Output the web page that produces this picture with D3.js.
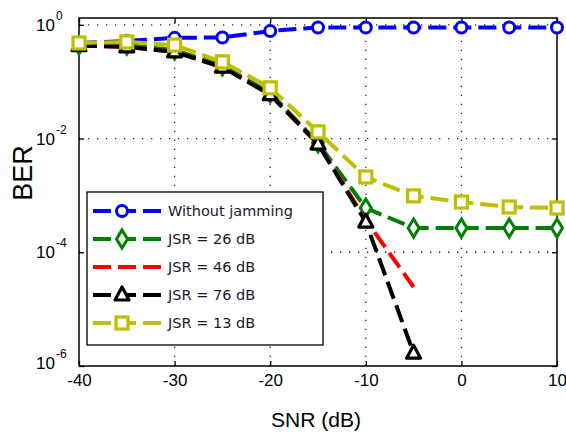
<!DOCTYPE html>
<html><head><meta charset="utf-8">
<script src="https://cdn.jsdelivr.net/npm/d3@7"></script>
<style>body{margin:0;background:#fff}svg{display:block}</style>
</head><body>
<svg id="c" width="566" height="432"></svg>
<script>
const snr = [-40,-35,-30,-25,-20,-15,-10,-5,0,5,10];
const noJam = [0.48,0.52,0.59,0.6,0.78,0.9,0.9,0.9,0.9,0.9,0.9];
const jsr26 = [0.445,0.44,0.36,0.19,0.0635,0.0084,6.0e-4,2.67e-4,2.67e-4,2.67e-4,2.67e-4];
const jsr46 = [0.43,0.41,0.335,0.18,0.059,0.0081,3.7e-4,2.45e-5];
const jsr76 = [0.43,0.41,0.335,0.18,0.059,0.0080,3.4e-4,1.68e-6];
const jsr13 = [0.48,0.50,0.44,0.223,0.078,0.0131,0.00211,9.8e-4,7.65e-4,6.25e-4,6.0e-4];
const seriesNames = ["Without jamming","JSR = 26 dB","JSR = 46 dB","JSR = 76 dB","JSR = 13 dB"];
const xTicks = [-40,-30,-20,-10,0,10];
const yTicks = [1,1e-2,1e-4,1e-6];
const yExp = ["0","-2","-4","-6"];

const series = [
  {name:seriesNames[0], v:noJam, color:"#0000ff", marker:"circle"},
  {name:seriesNames[1], v:jsr26, color:"#008000", marker:"diamond"},
  {name:seriesNames[2], v:jsr46, color:"#ff0000", marker:"none"},
  {name:seriesNames[3], v:jsr76, color:"#000000", marker:"triangle"},
  {name:seriesNames[4], v:jsr13, color:"#bfbf00", marker:"square"}
];

const L=79, R=557, T=18, B=366;
const svg = d3.select("#c");
const x = d3.scaleLinear().domain([-40,10]).range([L,R]);
const y = d3.scaleLog().domain([1e-6, Math.pow(10,0.12)]).range([B,T]);

// grid
const grid = svg.append("g").attr("stroke","#222").attr("stroke-width",1.3).attr("stroke-dasharray","1.3,7.7");
xTicks.slice(1,-1).forEach(t=>grid.append("line").attr("x1",x(t)).attr("x2",x(t)).attr("y1",B).attr("y2",T));
yTicks.slice(0,-1).forEach(t=>grid.append("line").attr("x1",L).attr("x2",R).attr("y1",y(t)).attr("y2",y(t)));

// axes
const xa = svg.append("g").attr("transform",`translate(0,${B})`)
  .call(d3.axisBottom(x).tickValues(xTicks).tickSize(-5).tickPadding(11).tickFormat(d=>String(d)));
xa.select(".domain").remove();
xa.selectAll("text").attr("font-family","Liberation Sans, Arial, sans-serif").attr("font-size",17).attr("fill","#000").attr("dy","0.5em");
const xt = svg.append("g").attr("transform",`translate(0,${T})`)
  .call(d3.axisTop(x).tickValues(xTicks).tickSize(-5).tickFormat(""));
xt.select(".domain").remove();
const ya = svg.append("g").attr("transform",`translate(${L},0)`)
  .call(d3.axisLeft(y).tickValues(yTicks).tickSize(-5).tickFormat(""));
ya.select(".domain").remove();
const yr = svg.append("g").attr("transform",`translate(${R},0)`)
  .call(d3.axisRight(y).tickValues(yTicks).tickSize(-5).tickFormat(""));
yr.select(".domain").remove();
svg.selectAll(".tick line").attr("stroke","#000").attr("stroke-width",1.3);

yTicks.forEach((t,i)=>{
  svg.append("text").attr("x",55).attr("y",y(t)+6 - (i===3?3:0))
    .attr("text-anchor","end").attr("font-family","Liberation Sans, Arial, sans-serif").attr("font-size",17).text("10");
  svg.append("text").attr("x",56).attr("y",y(t)-5 - (i===3?3:0))
    .attr("font-family","Liberation Sans, Arial, sans-serif").attr("font-size",12).text(yExp[i]);
});

// frame
svg.append("rect").attr("x",L).attr("y",T).attr("width",R-L).attr("height",B-T)
  .attr("fill","none").attr("stroke","#000").attr("stroke-width",1.5);

// labels
svg.append("text").attr("x",316).attr("y",427).attr("text-anchor","middle")
  .attr("font-family","Liberation Sans, Arial, sans-serif").attr("font-size",21).text("SNR (dB)");
svg.append("text").attr("transform","translate(32,173) rotate(-90)").attr("text-anchor","middle")
  .attr("font-family","Liberation Sans, Arial, sans-serif").attr("font-size",27).text("BER");

function drawMarker(g, kind, cx, cy, color){
  if(kind==="circle") g.append("circle").attr("cx",cx).attr("cy",cy).attr("r",5.5)
     .attr("fill","#fff").attr("stroke",color).attr("stroke-width",3);
  else if(kind==="square") g.append("rect").attr("x",cx-6).attr("y",cy-6).attr("width",12).attr("height",12)
     .attr("fill","#fff").attr("stroke",color).attr("stroke-width",3.2);
  else if(kind==="diamond") g.append("path").attr("d",`M${cx},${cy-9}L${cx+5.5},${cy}L${cx},${cy+9}L${cx-5.5},${cy}Z`)
     .attr("fill","#fff").attr("stroke",color).attr("stroke-width",3);
  else if(kind==="triangle") g.append("path").attr("d",`M${cx},${cy-8}L${cx+7},${cy+5}L${cx-7},${cy+5}Z`)
     .attr("fill","#fff").attr("stroke",color).attr("stroke-width",3.2).attr("stroke-linejoin","round");
}

const line = d3.line().x((d,i)=>x(snr[i])).y(d=>y(d));
const plot = svg.append("g");
series.forEach(s=>{
  const g = plot.append("g");
  g.append("path").attr("d",line(s.v)).attr("fill","none").attr("stroke",s.color)
   .attr("stroke-width",4).attr("stroke-dasharray","18,7");
  s.v.forEach((v,i)=>drawMarker(g,s.marker,x(snr[i]),y(v),s.color));
});

// legend
const lg = svg.append("g");
lg.append("rect").attr("x",87).attr("y",192).attr("width",236).attr("height",153)
  .attr("fill","#fff").attr("stroke","#000").attr("stroke-width",1.3);
series.forEach((s,i)=>{
  const ly = 211 + i*28;
  lg.append("line").attr("x1",93).attr("x2",161).attr("y1",ly).attr("y2",ly)
    .attr("stroke",s.color).attr("stroke-width",4).attr("stroke-dasharray","18,7");
  drawMarker(lg,s.marker,122,ly,s.color);
  lg.append("text").attr("x",168).attr("y",ly+5).attr("font-family","DejaVu Sans, Verdana, sans-serif")
    .attr("font-size",14.5).attr("fill","#1a1a2a").text(s.name);
});
</script>
</body></html>
